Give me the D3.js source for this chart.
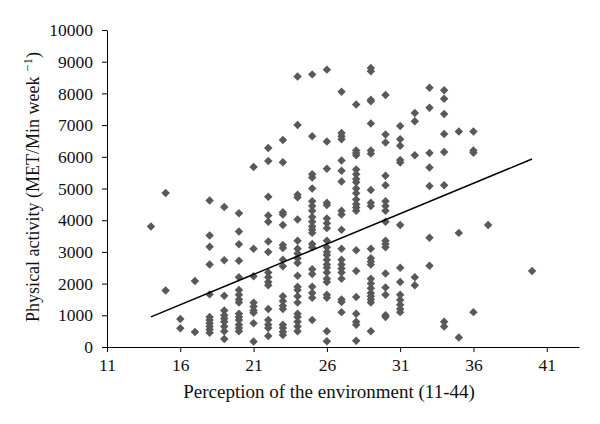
<!DOCTYPE html>
<html>
<head>
<meta charset="utf-8">
<script src="https://cdn.jsdelivr.net/npm/d3@7"></script>
<style>
  body { margin: 0; background: #fff; }
  svg text { font-family: "Liberation Serif", "Times New Roman", serif; }
</style>
</head>
<body>
<svg width="600" height="424"></svg>
<script>
// perception score for each column of points
var scores = [14, 15, 16, 17, 18, 19, 20, 21, 22, 23, 24, 25, 26, 27, 28, 29, 30, 31, 32, 33, 34, 35, 36, 37, 40];

// physical activity values found at each score (MET/min week)
var activityByScore = [
    [3800],
    [4860, 1780],
    [880, 590],
    [2080, 470],
    [4620, 3520, 3160, 2600, 1660, 950, 850, 750, 650, 550, 450],
    [4420, 2740, 1620, 1150, 1000, 900, 800, 650, 500, 250],
    [4220, 3640, 3240, 2720, 2200, 1800, 1650, 1500, 1400, 1050, 950, 850, 700, 600, 500],
    [5680, 3100, 2230, 1400, 1280, 1150, 1080, 750, 170],
    [6280, 5870, 4740, 4150, 3950, 3330, 3000, 2350, 2200, 2050, 1950, 1200, 850, 700, 600, 350],
    [6530, 5830, 4250, 4180, 3850, 3220, 3120, 2750, 2550, 1600, 1450, 1300, 1200, 700, 600, 480, 380],
    [8530, 7000, 4800, 4720, 4020, 3350, 3100, 2950, 2800, 2650, 2250, 1900, 1800, 1600, 1400, 1050, 950, 800, 650, 500],
    [8600, 6650, 5450, 5350, 5000, 4600, 4450, 4300, 4100, 3950, 3800, 3700, 3600, 3250, 3150, 2450, 2300, 1900, 1700, 1550, 850],
    [8750, 6480, 5620, 4550, 4480, 4050, 3900, 3750, 3350, 3150, 3000, 2900, 2750, 2600, 2500, 2350, 2150, 2050, 1650, 1550, 500, 180],
    [8050, 6750, 6650, 6550, 5880, 5560, 5220, 4300, 4180, 3700, 3100, 2750, 2600, 2480, 2350, 2150, 1500, 1420, 1100],
    [7650, 6200, 6120, 6050, 5600, 5450, 5300, 5200, 5000, 4850, 4650, 4500, 4400, 4300, 3050, 2400, 1580, 1050, 800, 700, 200],
    [8800, 8700, 7800, 7750, 7050, 6200, 6100, 4950, 4550, 4450, 3100, 2800, 2700, 2600, 2150, 2000, 1850, 1700, 1600, 1500, 1400, 500],
    [7950, 6700, 6450, 5400, 5100, 4600, 4450, 4300, 3950, 3350, 3250, 3150, 2320, 1880, 1650, 1000, 950],
    [6970, 6550, 6350, 5900, 5820, 3850, 2500, 2050, 1650, 1480, 1330, 1200, 1100],
    [7380, 7120, 6050, 2200, 1950],
    [8180, 7550, 6120, 5660, 5080, 3450, 2560],
    [8100, 7830, 7350, 6720, 6150, 5100, 800, 650],
    [6800, 3600, 300],
    [6800, 6200, 6130, 1100],
    [3850],
    [2400]
];

// fitted line end points
var trendScore = [14, 40];
var trendActivity = [950, 5930];

var xTicks = [11, 16, 21, 26, 31, 36, 41];
var yTicks = [0, 1000, 2000, 3000, 4000, 5000, 6000, 7000, 8000, 9000, 10000];

var points = [];
scores.forEach(function (s, i) {
    activityByScore[i].forEach(function (v) {
        points.push({ score: s, activity: v });
    });
});

var svg = d3.select("svg");

var xScale = d3.scaleLinear().domain([11, 43.2]).range([107, 579]);
var yScale = d3.scaleLinear().domain([0, 10000]).range([347, 30]);

var xAxis = svg.append("g")
    .attr("transform", "translate(0,347)")
    .call(d3.axisBottom(xScale).tickValues(xTicks).tickFormat(d3.format("d"))
        .tickSize(5).tickSizeOuter(0).tickPadding(7));

var yAxis = svg.append("g")
    .attr("transform", "translate(107,0)")
    .call(d3.axisLeft(yScale).tickValues(yTicks).tickFormat(d3.format("d"))
        .tickSize(5).tickSizeOuter(0).tickPadding(9));

[xAxis, yAxis].forEach(function (a) {
    a.selectAll("text")
        .style("font-family", '"Liberation Serif", serif')
        .style("font-size", "17.5px")
        .attr("fill", "#111");
    a.selectAll("line, path").attr("stroke", "#000");
});

// diamonds
svg.append("g").selectAll("path.pt")
    .data(points)
    .enter()
    .append("path")
    .attr("class", "pt")
    .attr("d", d3.symbol().type(d3.symbolSquare).size(36))
    .attr("transform", function (d) {
        return "translate(" + xScale(d.score) + "," + yScale(d.activity) + ") rotate(45)";
    })
    .attr("fill", "#595959");

var trendLine = d3.line()
    .x(function (d) { return xScale(d[0]); })
    .y(function (d) { return yScale(d[1]); });

svg.append("path")
    .attr("d", trendLine(d3.zip(trendScore, trendActivity)))
    .attr("stroke", "#000")
    .attr("stroke-width", 1.5)
    .attr("fill", "none");

svg.append("text")
    .attr("x", 329)
    .attr("y", 398)
    .attr("text-anchor", "middle")
    .style("font-size", "19px")
    .attr("fill", "#111")
    .text("Perception of the environment (11-44)");

var yTitle = svg.append("text")
    .attr("transform", "translate(39,187) rotate(-90)")
    .attr("text-anchor", "middle")
    .style("font-size", "18px")
    .attr("fill", "#111");
yTitle.append("tspan").text("Physical activity (MET/Min week ");
yTitle.append("tspan").attr("dy", "-7").style("font-size", "13px").text("\u22121");
yTitle.append("tspan").attr("dy", "7").text(")");
</script>
</body>
</html>
